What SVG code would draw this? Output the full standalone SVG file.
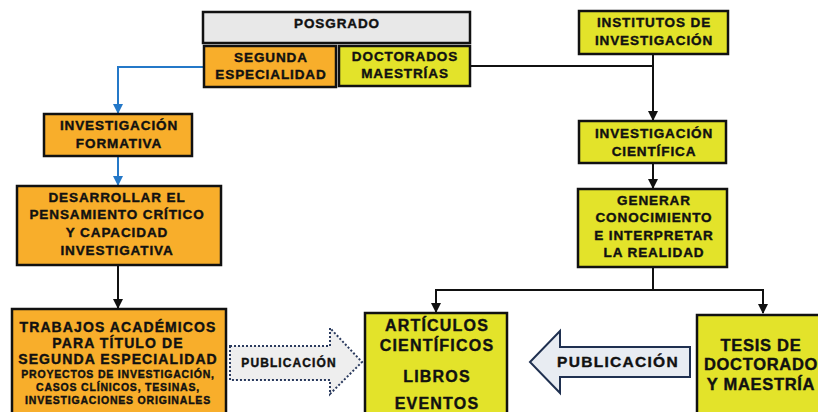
<svg xmlns="http://www.w3.org/2000/svg" width="818" height="412" viewBox="0 0 818 412">
<defs>
<style>
.box{stroke:#111;stroke-width:2.5}
.or{fill:#F8AE2B}
.ye{fill:#E3E32A}
.gr{fill:#E8E8E8}
text{font-family:"Liberation Sans",Arial,sans-serif;font-weight:bold;fill:#111;stroke:#111;stroke-width:0.4;text-anchor:middle}
.t13{font-size:13.5px;letter-spacing:0.9px}
.t14{font-size:14px;letter-spacing:1.1px}
.t15{font-size:16px;letter-spacing:1.2px}
.t10{font-size:10.5px;letter-spacing:0.8px}
.ts{font-size:16.5px;letter-spacing:0.7px}
.k{fill:none;stroke:#111;stroke-width:2}
.b{fill:none;stroke:#2478C8;stroke-width:2}
</style>
<marker id="ak" viewBox="0 0 10 10" refX="9" refY="5" markerWidth="5" markerHeight="5" orient="auto"><path d="M0,0L10,5L0,10z" fill="#111"/></marker>
<marker id="ab" viewBox="0 0 10 10" refX="9" refY="5" markerWidth="5" markerHeight="5" orient="auto"><path d="M0,0L10,5L0,10z" fill="#2478C8"/></marker>
</defs>
<g id="connectors">
<path class="b" d="M204,67H118V113" marker-end="url(#ab)"/>
<path class="b" d="M118,156V185" marker-end="url(#ab)"/>
<path class="k" d="M118,265V308" marker-end="url(#ak)"/>
<path class="k" d="M470,66H653"/>
<path class="k" d="M653,54V120" marker-end="url(#ak)"/>
<path class="k" d="M653,163V188" marker-end="url(#ak)"/>
<path class="k" d="M653,267V290"/>
<path class="k" d="M436,312V290H763V313" marker-end="url(#ak)"/>
<path class="k" d="M436,292V312" marker-end="url(#ak)"/>
</g>
<g id="posgrado"><rect class="box gr" x="203" y="12" width="267" height="31"/><text class="t13" x="337" y="28">POSGRADO</text></g>
<g id="segunda"><rect class="box or" x="204" y="46" width="132" height="41"/><text class="t13" x="271" y="62">SEGUNDA</text><text class="t13" x="271" y="79">ESPECIALIDAD</text></g>
<g id="doctorados"><rect class="box ye" x="339" y="46" width="131" height="40"/><text class="t13" x="405" y="61">DOCTORADOS</text><text class="t13" x="405" y="78">MAESTRÍAS</text></g>
<g id="institutos"><rect class="box ye" x="579" y="11" width="149" height="43"/><text class="t13" x="654" y="27">INSTITUTOS DE</text><text class="t13" x="654" y="45">INVESTIGACIÓN</text></g>
<g id="inv-cientifica"><rect class="box ye" x="579" y="121" width="147" height="42"/><text class="t13" x="654" y="138">INVESTIGACIÓN</text><text class="t13" x="654" y="156">CIENTÍFICA</text></g>
<g id="generar"><rect class="box ye" x="578" y="189" width="149" height="78"/><text class="t13" x="654" y="205">GENERAR</text><text class="t13" x="654" y="222">CONOCIMIENTO</text><text class="t13" x="654" y="240">E INTERPRETAR</text><text class="t13" x="654" y="257">LA REALIDAD</text></g>
<g id="inv-formativa"><rect class="box or" x="44" y="114" width="148" height="42"/><text class="t13" x="119" y="130">INVESTIGACIÓN</text><text class="t13" x="119" y="148">FORMATIVA</text></g>
<g id="desarrollar"><rect class="box or" x="17" y="186" width="204" height="79"/><text class="t13" x="117" y="202">DESARROLLAR EL</text><text class="t13" x="117" y="219">PENSAMIENTO CRÍTICO</text><text class="t13" x="117" y="237">Y CAPACIDAD</text><text class="t13" x="117" y="255">INVESTIGATIVA</text></g>
<g id="trabajos"><rect class="box or" x="12" y="309" width="214" height="110"/><text class="t14" x="118" y="332">TRABAJOS  ACADÉMICOS</text><text class="t14" x="118" y="348">PARA TÍTULO DE</text><text class="t14" x="118" y="364">SEGUNDA  ESPECIALIDAD</text><text class="t10" x="118" y="378">PROYECTOS DE INVESTIGACIÓN,</text><text class="t10" x="118" y="391">CASOS CLÍNICOS, TESINAS,</text><text class="t10" x="118" y="404">INVESTIGACIONES ORIGINALES</text></g>
<g id="pub-left"><path d="M230,346H330V328L362,362L330,394V380H230Z" fill="#EEEEEE" stroke="#2A3A5E" stroke-width="2" stroke-dasharray="2,2"/><text x="289" y="367" style="font-size:12px;letter-spacing:1.1px">PUBLICACIÓN</text></g>
<g id="articulos"><rect class="box ye" x="365" y="313" width="142" height="110"/><text class="t15" x="437" y="331">ARTÍCULOS</text><text class="t15" x="437" y="351">CIENTÍFICOS</text><text class="t15" x="437" y="382">LIBROS</text><text class="t15" x="437" y="409">EVENTOS</text></g>
<g id="pub-right"><path d="M690,347H560V331L530,362L560,393V377H690Z" fill="#E8ECF2" stroke="#1F3050" stroke-width="2"/><text x="618" y="367" style="font-size:15.5px;letter-spacing:1.3px">PUBLICACIÓN</text></g>
<g id="tesis"><rect class="box ye" x="697" y="315" width="140" height="110"/><text class="ts" x="761" y="351">TESIS  DE</text><text class="ts" x="761" y="370">DOCTORADO</text><text class="ts" x="761" y="390">Y MAESTRÍA</text></g>
</svg>
